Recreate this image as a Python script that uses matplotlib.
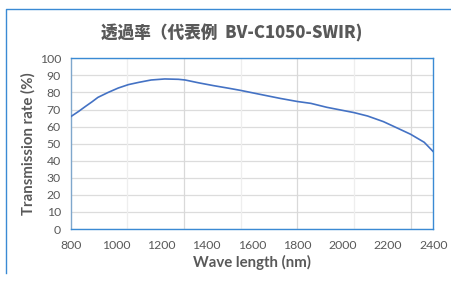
import matplotlib
matplotlib.use("Agg")
import matplotlib.pyplot as plt
from matplotlib.lines import Line2D

plt.rcParams['font.family'] = ['Lato', 'Noto Sans CJK JP', 'DejaVu Sans']

# transmission curve
wavelength = [800, 835, 865, 895, 920, 965, 1010, 1055, 1100, 1155, 1215, 1275, 1305,
              1355, 1370, 1430, 1500, 1550, 1650, 1725, 1800, 1860, 1930, 2050,
              2110, 2180, 2250, 2300, 2360, 2400]
transmission = [65.8, 68.9, 71.8, 74.6, 77.1, 80.0, 82.6, 84.6, 85.9, 87.3, 87.9, 87.7, 87.3,
                85.9, 85.5, 84.0, 82.4, 81.2, 78.5, 76.5, 74.7, 73.6, 71.3, 68.2,
                66.2, 62.9, 58.6, 55.5, 50.8, 45.3]
x_ticks = [800, 1000, 1200, 1400, 1600, 1800, 2000, 2200, 2400]
y_ticks = list(range(0, 101, 10))
grid_light = [1050, 1550, 2050]
grid_dark = [1300, 1800, 2300]

text_col = "#595959"
frame_col = "#3A8AD4"

fig = plt.figure(figsize=(4.52, 2.81), dpi=100)
ax = fig.add_axes([0.1564, 0.185, 0.8022, 0.6075])

for y in y_ticks:
    ax.axhline(y, color="#dcdcdc", lw=0.9, zorder=1)
for x in grid_light:
    ax.axvline(x, color="#eeeeee", lw=0.9, zorder=1)
for x in grid_dark:
    ax.axvline(x, color="#d9d9d9", lw=0.9, zorder=1)

ax.plot(wavelength, transmission, color="#4472C4", lw=1.2, zorder=3)

ax.set_xlim(800, 2400)
ax.set_ylim(0, 100)
ax.set_xticks(x_ticks)
ax.set_yticks(y_ticks)
ax.tick_params(length=0, labelsize=8.8, colors=text_col)
ax.tick_params(axis="x", pad=8)
ax.tick_params(axis="y", pad=7)
for s in ax.spines.values():
    s.set_color(frame_col)
    s.set_linewidth(1.0)
ax.spines["left"].set_color("#7FA7CC")

ax.set_xlabel("Wave length (nm)", fontsize=10.8, fontweight="bold", color=text_col, labelpad=3)
ax.set_ylabel("Transmission rate (%)", fontsize=10.8, fontweight="bold", color=text_col, labelpad=3)

fig.text(0.513, 0.882, "透過率（代表例  BV-C1050-SWIR)", ha="center", va="center",
         fontsize=12, fontweight="black", color=text_col,
         family=['Noto Sans CJK JP', 'DejaVu Sans'])

# outer chart frame (left and top only)
fig.add_artist(Line2D([6 / 452, 6 / 452, 1.0], [1 - 273 / 281, 1 - 9 / 281, 1 - 9 / 281],
                      transform=fig.transFigure, color=frame_col, lw=1.0))

fig.savefig("out.png", dpi=100)
